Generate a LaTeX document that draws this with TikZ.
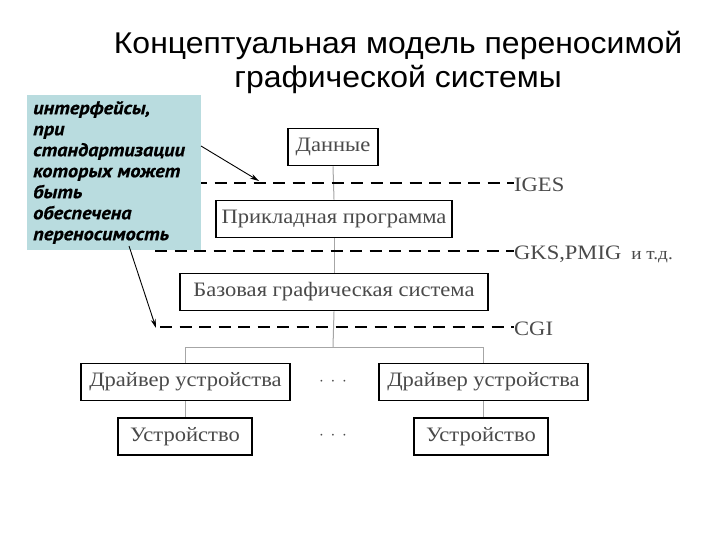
\documentclass[tikz,border=0pt]{standalone}
\usepackage{fontspec}
\setmainfont{Liberation Serif}[FakeStretch=1.1]
\newfontfamily\titlefont[FakeStretch=1.065]{Liberation Sans}
\newfontfamily\notefont[FakeStretch=1.1,FakeBold=0.6]{PT Sans}
\usetikzlibrary{arrows.meta}
\definecolor{notebg}{HTML}{B9DCDF}
\definecolor{boxtext}{HTML}{4A4A4A}
\tikzset{
  blk/.style={draw=black, line width=1.8pt, fill=white, minimum height=37pt, inner sep=0pt, font=\fontsize{20.5}{24}\selectfont, text=boxtext},
  iface/.style={dash pattern=on 12pt off 7.5pt, line width=2pt},
  conn/.style={draw=gray!70, line width=1pt},
  lbl/.style={anchor=west, inner sep=0pt, font=\fontsize{20.5}{24}\selectfont, text=boxtext},
  ttl/.style={anchor=base, inner sep=0pt, font=\titlefont\fontsize{30}{34}\selectfont},
  ptr/.style={-{Stealth[length=9pt,width=5pt]}, line width=0.9pt}
}
\begin{document}
\begin{tikzpicture}[x=1pt,y=-1pt]
\useasboundingbox (0,0) rectangle (720,540);
\fill[white] (0,0) rectangle (720,540);
% title
\node[ttl] (title1) at (398,54) {Концептуальная модель переносимой};
\node[ttl] (title2) at (398,88) {графической системы};
% boxes
\node[blk, minimum width=90pt] (data) at (333,147) {Данные};
\node[blk, minimum width=236pt] (app) at (334,219) {Прикладная программа};
\node[blk, minimum width=308pt] (base) at (334,292) {Базовая графическая система};
\node[blk, minimum width=209pt] (drvL) at (185.5,382) {Драйвер устройства};
\node[blk, minimum width=209pt] (drvR) at (483.5,382) {Драйвер устройства};
\node[blk, minimum width=134pt] (devL) at (185,436.5) {Устройство};
\node[blk, minimum width=134pt] (devR) at (481,436.5) {Устройство};
\node[font=\fontsize{17}{20}\selectfont, text=boxtext] (dots1) at (333,382) {$\cdot\,\cdot\,\cdot$};
\node[font=\fontsize{17}{20}\selectfont, text=boxtext] (dots2) at (333,436) {$\cdot\,\cdot\,\cdot$};
% connectors
\coordinate (bus) at (333,347);
\coordinate (busL) at (185.5,347);
\coordinate (busR) at (483.5,347);
\draw[conn] (data.south) -- (app.north);
\draw[conn] (app.south) -- (base.north);
\draw[conn] (base.south) -- (bus);
\draw[conn] (busL) -- (busR);
\draw[conn] (busL) -- (drvL.north);
\draw[conn] (busR) -- (drvR.north);
\draw[conn] (drvL.south) -- (drvL.south |- devL.north);
\draw[conn] (drvR.south) -- (drvR.south |- devR.north);
% interface lines
\coordinate (i1s) at (195,183);
\coordinate (i2s) at (155,251);
\coordinate (i3s) at (160,327);
\node[lbl] (iges) at (514,185) {IGES};
\node[lbl] (gks) at (514,254) {GKS,PMIG\hspace{10pt}{\fontsize{17.5}{20}\selectfont и т.д.}};
\node[lbl] (cgi) at (514,329) {CGI};
\draw[iface] (i1s) -- (iges.west |- i1s);
\draw[iface] (i2s) -- (gks.west |- i2s);
\draw[iface] (i3s) -- (cgi.west |- i3s);
% note
\node[fill=notebg, minimum width=174pt, minimum height=155pt, inner sep=0pt] (note) at (114,172.5) {};
\node[anchor=north west, inner sep=0pt, align=left, font=\notefont\bfseries\itshape\fontsize{18.5}{21}\selectfont] (notetext) at (33,101)
  {интерфейсы,\\при\\стандартизации\\которых может\\быть\\обеспечена\\переносимость};
\coordinate (a1s) at (201,146);
\coordinate (a1e) at (259,181);
\coordinate (a2s) at (129,246);
\coordinate (a2e) at (156,328);
\draw[ptr] (a1s) -- (a1e);
\draw[ptr] (a2s) -- (a2e);
\end{tikzpicture}
\end{document}
